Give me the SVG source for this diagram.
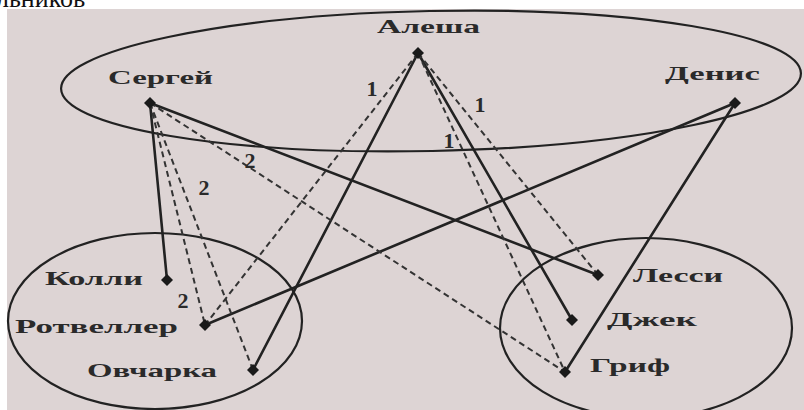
<svg xmlns="http://www.w3.org/2000/svg" width="804" height="410" viewBox="0 0 804 410">
<style>
.lbl{font-family:"Liberation Serif","DejaVu Serif",serif;font-weight:bold;font-size:19px;fill:#2a2a2a}
.num{font-family:"Liberation Serif","DejaVu Serif",serif;font-weight:bold;font-size:22px;fill:#2a2a2a;text-anchor:middle}
.solid{stroke:#222;stroke-width:2.6;fill:none;stroke-linecap:round}
.dash{stroke:#333;stroke-width:2;fill:none;stroke-dasharray:6 4}
.set{stroke:#222;stroke-width:2.2;fill:none}
.mk{fill:#1a1a1a}
</style>
<defs>
<path id="dm" d="M0,-6 L6,0 L0,6 L-6,0 Z"/>
</defs>
<rect x="0" y="0" width="804" height="410" fill="#ffffff"/>
<rect x="7" y="9" width="797" height="401" fill="#ddd4d4"/>
<text x="-4" y="7" font-family="Liberation Serif, serif" font-size="26" fill="#111">льников</text>
<g id="sets">
<ellipse cx="431" cy="81" rx="370" ry="70" transform="rotate(-1.2 431 81)" class="set"/>
<ellipse cx="155" cy="321" rx="147" ry="88" class="set"/>
<ellipse cx="646" cy="328" rx="146" ry="90" class="set"/>
</g>
<g id="connectors">
<line x1="150" y1="103" x2="167" y2="280" class="solid"/>
<line x1="150" y1="103" x2="598" y2="275" class="solid"/>
<line x1="418" y1="53" x2="253" y2="370" class="solid"/>
<line x1="418" y1="53" x2="572" y2="320" class="solid"/>
<line x1="735" y1="103" x2="205" y2="325" class="solid"/>
<line x1="735" y1="103" x2="565" y2="372" class="solid"/>
<line x1="150" y1="103" x2="205" y2="325" class="dash"/>
<line x1="150" y1="103" x2="253" y2="370" class="dash"/>
<line x1="150" y1="103" x2="565" y2="372" class="dash"/>
<line x1="418" y1="53" x2="205" y2="325" class="dash"/>
<line x1="418" y1="53" x2="598" y2="275" class="dash"/>
<line x1="418" y1="53" x2="565" y2="372" class="dash"/>
<text x="250" y="168" class="num">2</text>
<text x="204" y="195" class="num">2</text>
<text x="183" y="308" class="num">2</text>
<text x="372" y="96" class="num">1</text>
<text x="480" y="112" class="num">1</text>
<text x="449" y="148" class="num">1</text>
</g>
<g id="n-alesha"><use href="#dm" x="418" y="53" class="mk"/><text x="377" y="33" class="lbl" textLength="103" lengthAdjust="spacingAndGlyphs">Алеша</text></g>
<g id="n-sergey"><use href="#dm" x="150" y="103" class="mk"/><text x="108" y="84" class="lbl" textLength="105" lengthAdjust="spacingAndGlyphs">Сергей</text></g>
<g id="n-denis"><use href="#dm" x="735" y="103" class="mk"/><text x="665" y="80" class="lbl" textLength="95" lengthAdjust="spacingAndGlyphs">Денис</text></g>
<g id="n-kolli"><use href="#dm" x="167" y="280" class="mk"/><text x="45" y="285" class="lbl" textLength="98" lengthAdjust="spacingAndGlyphs">Колли</text></g>
<g id="n-rotveiler"><use href="#dm" x="205" y="325" class="mk"/><text x="15" y="333" class="lbl" textLength="163" lengthAdjust="spacingAndGlyphs">Ротвеллер</text></g>
<g id="n-ovcharka"><use href="#dm" x="253" y="370" class="mk"/><text x="87" y="377" class="lbl" textLength="130" lengthAdjust="spacingAndGlyphs">Овчарка</text></g>
<g id="n-lessi"><use href="#dm" x="598" y="275" class="mk"/><text x="633" y="282" class="lbl" textLength="90" lengthAdjust="spacingAndGlyphs">Лесси</text></g>
<g id="n-dzhek"><use href="#dm" x="572" y="320" class="mk"/><text x="607" y="326" class="lbl" textLength="90" lengthAdjust="spacingAndGlyphs">Джек</text></g>
<g id="n-grif"><use href="#dm" x="565" y="372" class="mk"/><text x="590" y="372" class="lbl" textLength="80" lengthAdjust="spacingAndGlyphs">Гриф</text></g>
</svg>
